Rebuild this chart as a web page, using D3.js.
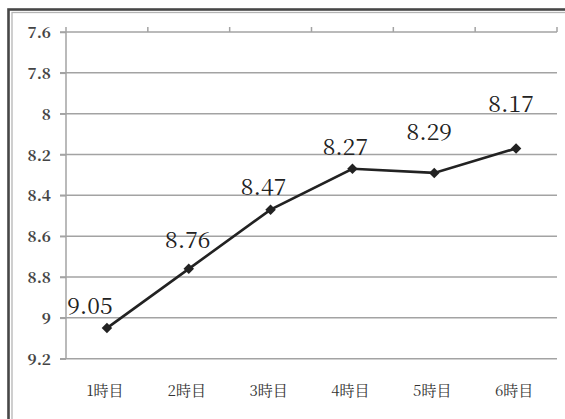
<!DOCTYPE html>
<html>
<head>
<meta charset="utf-8">
<script src="https://cdn.jsdelivr.net/npm/d3@7"></script>
</head>
<body style="margin:0">
<div id="chart"></div>
<script>
// data
const categories = ['1時目', '2時目', '3時目', '4時目', '5時目', '6時目']
const values = [9.05, 8.76, 8.47, 8.27, 8.29, 8.17]
const yTicks = [7.6, 7.8, 8, 8.2, 8.4, 8.6, 8.8, 9, 9.2]

// hand placed label nudges (dx, dy from the marker)
const labelDx = [-17, -1, -7, -7, -5, -5]
const labelDy = [-14, -21, -15, -14, -33, -36]

const width = 565
const height = 419
const plot = { left: 66, right: 557, top: 32, bottom: 358.7 }

const svg = d3.select('#chart')
    .append('svg')
    .attr('width', width)
    .attr('height', height)
    .attr('font-family', 'Noto Serif CJK JP')

// frame: dark outer line and thin gray inner line
svg.append('rect')
    .attr('x', 8.5).attr('y', 9.5)
    .attr('width', 700).attr('height', 700)
    .attr('fill', 'none')
    .attr('stroke', '#474747')
    .attr('stroke-width', 2.6)
svg.append('rect')
    .attr('x', 12).attr('y', 12.5)
    .attr('width', 700).attr('height', 700)
    .attr('fill', 'none')
    .attr('stroke', '#b5b5b5')
    .attr('stroke-width', 1.3)

const x = d3.scaleBand()
    .domain(categories)
    .range([plot.left, plot.right])
    .padding(0)

// value axis runs downward: small values on top
const y = d3.scaleLinear()
    .domain([7.6, 9.2])
    .range([plot.top, plot.bottom])

const cx = d => x(d) + x.bandwidth() / 2

// grid lines
svg.append('g')
    .selectAll('line')
    .data(yTicks)
    .enter()
    .append('line')
    .attr('x1', plot.left - 6)
    .attr('x2', plot.right)
    .attr('y1', d => y(d))
    .attr('y2', d => y(d))
    .attr('stroke', '#a3a3a3')
    .attr('stroke-width', 1.5)

// y axis
const yAxis = svg.append('g')
    .attr('transform', `translate(${plot.left},0)`)
    .call(d3.axisLeft(y)
        .tickValues(yTicks)
        .tickFormat(d => String(d))
        .tickSize(6)
        .tickSizeOuter(0)
        .tickPadding(9))
yAxis.attr('font-family', null).attr('font-size', 15.5)
yAxis.select('.domain').remove()
yAxis.selectAll('line').attr('stroke', '#a3a3a3').attr('stroke-width', 1.5)
yAxis.selectAll('text')
    .attr('font-weight', 'bold')
    .attr('fill', '#444')
    .attr('dy', '0.36em')

svg.append('line')
    .attr('x1', plot.left).attr('x2', plot.left)
    .attr('y1', plot.top - 5).attr('y2', plot.bottom)
    .attr('stroke', '#a3a3a3')
    .attr('stroke-width', 1.5)

// category axis ticks on top (between categories)
svg.append('g')
    .selectAll('line')
    .data(categories)
    .enter()
    .append('line')
    .attr('x1', d => x(d) + x.bandwidth())
    .attr('x2', d => x(d) + x.bandwidth())
    .attr('y1', plot.top - 5)
    .attr('y2', plot.top)
    .attr('stroke', '#a3a3a3')
    .attr('stroke-width', 1.5)

// category labels at the bottom
svg.append('g')
    .attr('font-size', 15)
    .selectAll('text')
    .data(categories)
    .enter()
    .append('text')
    .attr('x', d => cx(d) - 2)
    .attr('y', 396)
    .attr('text-anchor', 'middle')
    .attr('fill', '#333')
    .text(d => d)

// line + markers
const pts = categories.map((c, i) => ({ c: c, v: values[i], i: i }))

svg.append('path')
    .datum(pts)
    .attr('fill', 'none')
    .attr('stroke', '#222')
    .attr('stroke-width', 2.6)
    .attr('d', d3.line().x(d => cx(d.c)).y(d => y(d.v)))

svg.append('g')
    .selectAll('path')
    .data(pts)
    .enter()
    .append('path')
    .attr('transform', d => `translate(${cx(d.c)},${y(d.v)})`)
    .attr('d', d3.symbol().type(d3.symbolDiamond2).size(70))
    .attr('fill', '#222')

// data labels
svg.append('g')
    .attr('font-size', 23)
    .selectAll('text')
    .data(pts)
    .enter()
    .append('text')
    .attr('x', d => cx(d.c) + labelDx[d.i])
    .attr('y', d => y(d.v) + labelDy[d.i])
    .attr('text-anchor', 'middle')
    .attr('fill', '#222')
    .text(d => d3.format('.2f')(d.v))
</script>
</body>
</html>
